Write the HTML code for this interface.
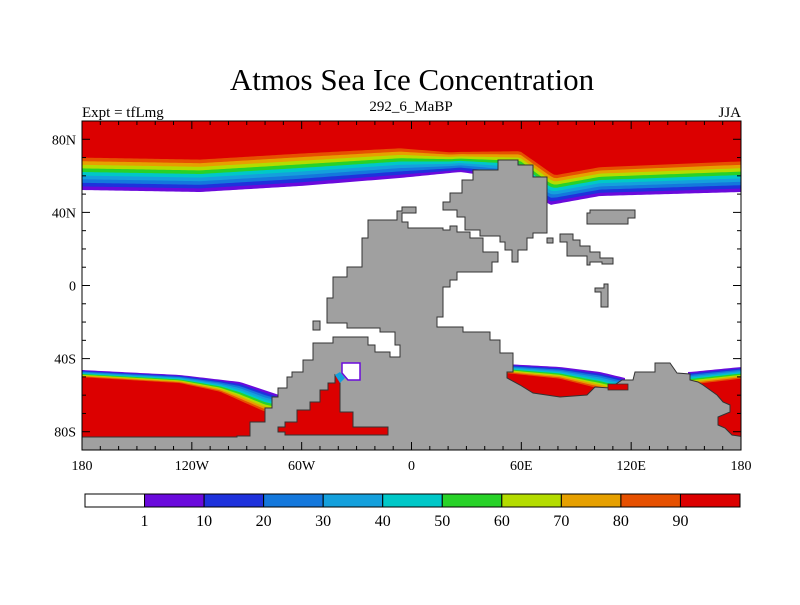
<!DOCTYPE html>
<html><head><meta charset="utf-8"><style>
body{margin:0;background:#fff}
svg text{font-family:"Liberation Serif",serif;fill:#000}
</style></head><body>
<svg id="chart" width="800" height="600" viewBox="0 0 800 600">
<rect width="800" height="600" fill="#fff"/>
<text x="412" y="90" font-size="31" text-anchor="middle">Atmos Sea Ice Concentration</text>
<text x="82" y="117" font-size="15">Expt = tfLmg</text>
<text x="411" y="111" font-size="15" text-anchor="middle">292_6_MaBP</text>
<text x="741" y="117" font-size="15" text-anchor="end">JJA</text>
<g id="map"></g>
<g id="axes"></g>
<g id="cbar"></g>
</svg>
<script>
const levels=[1,10,20,30,40,50,60,70,80,90];
const colors=["#ffffff","#6a0adc","#1e32dc","#1478dc","#14a0dc","#00c8c8","#28d228","#b4dc00","#e6a000","#e65000","#dc0000"];
const xTicks=[-180,-120,-60,0,60,120,180];
const xTickLabels=["180","120W","60W","0","60E","120E","180"];
const yTicks=[80,40,0,-40,-80];
const yTickLabels=["80N","40N","0","40S","80S"];
const NS="http://www.w3.org/2000/svg";
const X0=82,X1=741,Y0=121,Y1=450;
const xs=l=>X0+(l+180)/360*(X1-X0);
const ys=l=>Y0+(90-l)/180*(Y1-Y0);
function mk(t,a,p){const e=document.createElementNS(NS,t);for(const k in a)e.setAttribute(k,a[k]);(p||document.getElementById('map')).appendChild(e);return e;}
const map=document.getElementById('map');
const clip=mk('clipPath',{id:'pc'},map);mk('rect',{x:X0,y:Y0,width:X1-X0,height:Y1-Y0},clip);
const g=mk('g',{'clip-path':'url(#pc)'},map);
function interp(pts,x){for(let i=0;i<pts.length-1;i++){if(x>=pts[i][0]&&x<=pts[i+1][0]){const t=(x-pts[i][0])/(pts[i+1][0]-pts[i][0]);return pts[i][1]+t*(pts[i+1][1]-pts[i][1]);}}return x<pts[0][0]?pts[0][1]:pts[pts.length-1][1];}
function bands(edge,core,xa,xb,far,name){
  for(let k=0;k<=10;k++){
    let d='';
    for(let x=xa;x<=xb;x+=3){const e=interp(edge,x),c=interp(core,x);const y=e+(c-e)*k/10;d+=(d?'L':'M')+x+','+y;}
    d+='L'+xb+','+far+'L'+xa+','+far+'Z';
    const p=mk('path',{d:d,fill:colors[k+1>10?10:k+1]},g);
    
    
  }
}
bands([[82,190],[200,192],[300,186],[400,178],[460,172],[520,180],[550,205],[600,196],[741,192]],
      [[82,154],[200,156],[300,150],[400,145],[450,150],[520,148],[555,172],[600,164],[741,158]],80,745,121,'north-ice');
bands([[82,370],[180,375],[240,382],[270,392],[300,402]],[[82,378],[180,384],[220,393],[245,405],[265,414],[300,418]],80,300,450,'pacific-ice');
bands([[505,364],[560,367],[600,372],[625,378]],[[505,374],[560,380],[590,388],[620,395]],505,625,450,'indian-ice');
bands([[690,372],[741,367]],[[690,386],[741,380]],688,745,450,'ross-ice');
const land=[[82,452],[82,437],[237,437],[237,436],[250,436],[250,422],[265,422],[265,408],[272,408],[272,397],[278,397],[278,388],[287,388],[287,377],[292,377],[292,372],[303,372],[303,360],[313,360],[313,343],[333,343],[333,337],[368,337],[368,345],[375,345],[375,352],[390,352],[390,357],[400,357],[400,345],[395,345],[395,332],[380,332],[380,328],[347,328],[347,323],[327,323],[327,298],[333,298],[333,277],[347,277],[347,267],[362,267],[362,238],[368,238],[368,220],[397,220],[397,211],[402,211],[402,207],[416,207],[416,213],[402,213],[402,222],[408,222],[408,228],[443,228],[443,230],[450,230],[450,226],[457,226],[457,232],[470,232],[470,238],[483,238],[483,252],[498,252],[498,262],[492,262],[492,272],[457,272],[457,280],[450,280],[450,287],[443,287],[443,317],[437,317],[437,327],[463,327],[463,332],[490,332],[490,340],[500,340],[500,353],[513,353],[513,372],[507,372],[507,378],[520,385],[533,393],[560,397],[587,395],[595,387],[610,388],[622,380],[633,380],[635,372],[655,372],[655,363],[670,363],[677,373],[690,374],[690,380],[698,382],[703,385],[710,390],[717,395],[723,402],[730,405],[730,412],[718,417],[718,425],[725,428],[732,435],[745,437],[745,452]];
const lp=mk('polygon',{points:land.map(p=>p.join(',')).join(' '),fill:'#a0a0a0',stroke:'#333','stroke-width':1},g);

const islands=[
 [[443,202],[450,202],[450,193],[462,193],[462,180],[473,180],[473,170],[498,170],[498,160],[518,160],[518,165],[533,165],[533,177],[547,177],[547,233],[533,233],[533,238],[527,238],[527,250],[518,250],[518,262],[512,262],[512,250],[505,250],[505,242],[500,242],[500,236],[480,236],[480,230],[465,230],[465,217],[457,217],[457,210],[443,210]],
 [[587,213],[590,213],[590,210],[635,210],[635,218],[628,218],[628,224],[587,224]],
 [[560,234],[573,234],[573,240],[580,240],[580,246],[590,246],[590,252],[600,252],[600,258],[613,258],[613,264],[602,264],[602,262],[590,262],[590,265],[587,265],[587,256],[567,256],[567,242],[560,242]],
 [[547,238],[553,238],[553,243],[547,243]],
 [[604,284],[608,284],[608,307],[601,307],[601,292],[595,292],[595,288],[604,288]],
 [[313,321],[320,321],[320,330],[313,330]]];
islands.forEach((pts,i)=>{const p=mk('polygon',{points:pts.map(q=>q.join(',')).join(' '),fill:'#a0a0a0',stroke:'#333','stroke-width':1},g);
 });
const wd=mk('polygon',{points:'278,427 285,427 285,422 297,422 297,410 310,410 310,402 320,402 320,390 328,390 328,383 335,383 335,375 340,380 340,412 353,412 353,427 388,427 388,435 285,435 285,432 278,432',fill:'#dc0000',stroke:'#333','stroke-width':1},g);

const wg=mk('polygon',{points:'335,375 340,372 345,378 340,383',fill:'#14a0dc'},g);

const pk=mk('polygon',{points:'342,363 360,363 360,380 348,380 342,373',fill:'#fff',stroke:'#6a0adc','stroke-width':1.5},g);

const rp=mk('polygon',{points:'608,384 628,384 628,390 608,390',fill:'#dc0000',stroke:'#333','stroke-width':0.8},g);

const ax=document.getElementById('axes');
const fr=mk('rect',{x:X0,y:Y0,width:X1-X0,height:Y1-Y0,fill:'none',stroke:'#000','stroke-width':1},ax);

for(let l=-180;l<=180;l+=10){const major=l%60===0;const x=xs(l);const len=major?8:4;
 mk('line',{x1:x,x2:x,y1:Y1,y2:Y1-len,stroke:'#000'},ax);mk('line',{x1:x,x2:x,y1:Y0,y2:Y0+len,stroke:'#000'},ax);}
for(let l=-90;l<=90;l+=10){const major=l%40===0;const y=ys(l);const len=major?8:4;
 mk('line',{x1:X0,x2:X0+len,y1:y,y2:y,stroke:'#000'},ax);mk('line',{x1:X1,x2:X1-len,y1:y,y2:y,stroke:'#000'},ax);}
xTicks.forEach((l,i)=>{const t=mk('text',{x:xs(l),y:470,'font-size':14,'text-anchor':'middle'},ax);t.textContent=xTickLabels[i];
 });
yTicks.forEach((l,i)=>{const t=mk('text',{x:76,y:ys(l)+5,'font-size':14,'text-anchor':'end'},ax);t.textContent=yTickLabels[i];
 });
const cb=document.getElementById('cbar');const CX0=85,CX1=740,CY=494,CH=13;const bw=(CX1-CX0)/colors.length;
colors.forEach((c,i)=>{const r=mk('rect',{x:CX0+i*bw,y:CY,width:bw,height:CH,fill:c,stroke:'#000','stroke-width':1},cb);
 });
levels.forEach((v,i)=>{const t=mk('text',{x:CX0+(i+1)*bw,y:526,'font-size':16,'text-anchor':'middle'},cb);t.textContent=v;
 });
</script>
</body></html>
